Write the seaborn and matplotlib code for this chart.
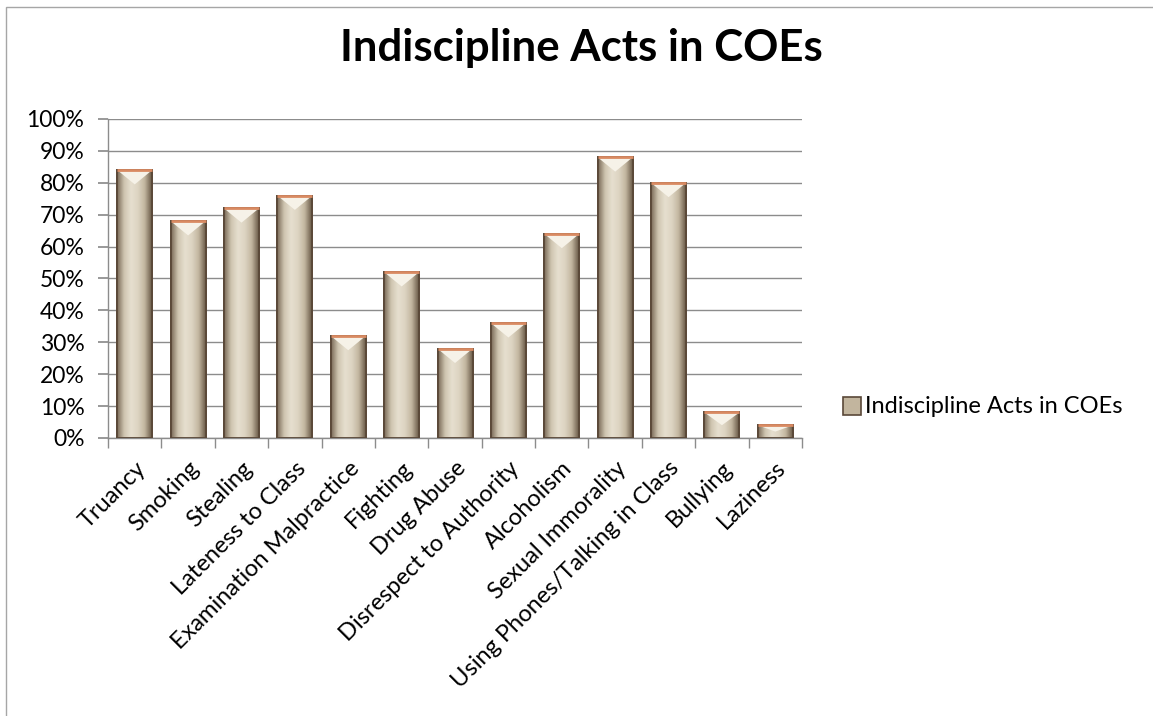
import matplotlib
matplotlib.use("Agg")
import matplotlib.pyplot as plt
from matplotlib.patches import Rectangle, Polygon
from matplotlib.colors import LinearSegmentedColormap
from matplotlib.ticker import FuncFormatter
import numpy as np
import pandas as pd
import seaborn as sns

# data
acts = ["Truancy", "Smoking", "Stealing", "Lateness to Class", "Examination Malpractice",
        "Fighting", "Drug Abuse", "Disrespect to Authority", "Alcoholism",
        "Sexual Immorality", "Using Phones/Talking in Class", "Bullying", "Laziness"]
percent = [84, 68, 72, 76, 32, 52, 28, 36, 64, 88, 80, 8, 4]
series_name = "Indiscipline Acts in COEs"

df = pd.DataFrame({"act": acts, "value": percent, "series": series_name})

sns.set_theme(style="white")
plt.rcParams["font.family"] = ["Lato", "DejaVu Sans"]
plt.rcParams["text.color"] = "black"
plt.rcParams["xtick.color"] = "black"
plt.rcParams["ytick.color"] = "black"

fig = plt.figure(figsize=(11.53, 7.16), dpi=100)
ax = fig.add_axes([0.0937, 0.3883, 0.6019, 0.4455])

sns.barplot(data=df, x="act", y="value", hue="series", ax=ax, width=0.655,
            palette=["#d6ccb8"], edgecolor="#5a4838", linewidth=1.3, legend=False)

# beveled, shaded look for the bars
shade = LinearSegmentedColormap.from_list(
    "bevel", ["#7a6a58", "#cfc5b0", "#e6dfcf", "#ddd4c2", "#c2b69f", "#6a5a48"])
grad = np.linspace(0, 1, 64).reshape(1, -1)
for p in list(ax.patches):
    x0, w, h = p.get_x(), p.get_width(), p.get_height()
    im = ax.imshow(grad, cmap=shade, aspect="auto", extent=[x0, x0 + w, 0, h],
                   zorder=2.5, interpolation="bicubic")
    im.set_clip_path(p)
    d = min(4.5, h * 0.5)
    ax.add_patch(Polygon([[x0, h], [x0 + w, h], [x0 + w / 2, h - d]], closed=True,
                         facecolor="#f6f2e8", edgecolor="none", zorder=3))
    ax.add_patch(Rectangle((x0, 0), w, h, fill=False, edgecolor="#5a4838", lw=1.3, zorder=3.5))
    ax.plot([x0, x0 + w], [h, h], color="#d98a62", lw=2, solid_capstyle="butt", zorder=4)

ax.set_ylim(0, 100)
ax.set_xlim(-0.5, len(acts) - 0.5)
ax.set_yticks(np.arange(0, 101, 10))
ax.yaxis.set_major_formatter(FuncFormatter(lambda v, _: f"{v:.0f}%"))
ax.yaxis.grid(True, color="#8c8c8c", lw=1)
ax.set_axisbelow(True)
ax.set_xlabel("")
ax.set_ylabel("")

for s in ["top", "right"]:
    ax.spines[s].set_visible(False)
for s in ["left", "bottom"]:
    ax.spines[s].set_color("#8c8c8c")
    ax.spines[s].set_linewidth(1)

ax.tick_params(axis="y", left=True, length=7, color="#8c8c8c", labelsize=16.5,
               labelcolor="black", pad=10)
ax.set_xticks(range(len(acts)))
ax.set_xticklabels(acts, rotation=45, ha="right", rotation_mode="anchor", fontsize=17,
                   color="black")
ax.tick_params(axis="x", bottom=False, pad=8)
# tick marks between categories
ax.set_xticks(np.arange(-0.5, len(acts), 1), minor=True)
ax.tick_params(axis="x", which="minor", bottom=True, length=7, color="#8c8c8c")

fig.text(0.504, 0.933, "Indiscipline Acts in COEs", ha="center", va="center",
         fontsize=31.5, fontweight="bold", color="black")

# legend
lx, ly = 843 / 1153, 1 - 406 / 716
fig.patches.append(Rectangle((lx, ly - 0.0125), 18 / 1153, 0.025, transform=fig.transFigure,
                             facecolor="#c2b59e", edgecolor="#5a4838", lw=1.2))
fig.text(865 / 1153, ly, series_name, ha="left", va="center", fontsize=17, color="black")

# outer chart border
fig.patches.append(Rectangle((6 / 1153, -0.01), 1.2, 1 - 7 / 716 + 0.01,
                             transform=fig.transFigure, fill=False,
                             edgecolor="#a6a6a6", lw=1))

fig.savefig("out.png", dpi=100)
